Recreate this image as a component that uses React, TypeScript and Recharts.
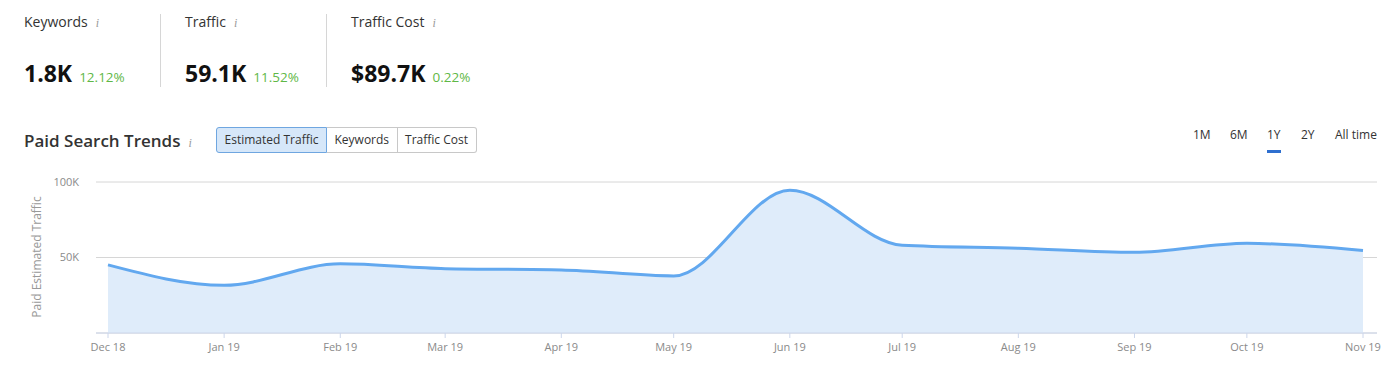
import { Area, AreaChart, CartesianGrid, XAxis, YAxis } from "recharts";

const months = ["Dec 18", "Jan 19", "Feb 19", "Mar 19", "Apr 19", "May 19", "Jun 19", "Jul 19", "Aug 19", "Sep 19", "Oct 19", "Nov 19"];
const monthStarts = [
  Date.UTC(2018, 11, 1),
  Date.UTC(2019, 0, 1),
  Date.UTC(2019, 1, 1),
  Date.UTC(2019, 2, 1),
  Date.UTC(2019, 3, 1),
  Date.UTC(2019, 4, 1),
  Date.UTC(2019, 5, 1),
  Date.UTC(2019, 6, 1),
  Date.UTC(2019, 7, 1),
  Date.UTC(2019, 8, 1),
  Date.UTC(2019, 9, 1),
  Date.UTC(2019, 10, 1),
];
const traffic = [45100, 31600, 45800, 42600, 41800, 37800, 94500, 58100, 56100, 53400, 59400, 54600];
const yTicks = [50000, 100000];

const kpis = [
  { label: "Keywords", value: "1.8K", delta: "12.12%", x: 24 },
  { label: "Traffic", value: "59.1K", delta: "11.52%", x: 185 },
  { label: "Traffic Cost", value: "$89.7K", delta: "0.22%", x: 351 },
];
const tabs = ["Estimated Traffic", "Keywords", "Traffic Cost"];
const periods = [
  { label: "1M", x: 1193 },
  { label: "6M", x: 1230 },
  { label: "1Y", x: 1267 },
  { label: "2Y", x: 1301 },
  { label: "All time", x: 1335 },
];

const data = monthStarts.map((t, i) => ({ t, traffic: traffic[i] }));
const FONT = "'Open Sans', sans-serif";

function fmtK(v: number) {
  return `${Math.round(v / 1000)}K`;
}

function fmtMonth(t: number) {
  const i = monthStarts.indexOf(t);
  return i >= 0 ? months[i] : "";
}

export default function App() {
  return (
    <div style={{ position: "absolute", left: 0, top: 0, width: 1396, height: 381, background: "#fff", fontFamily: FONT, color: "#333" }}>
      {kpis.map((k, i) => (
        <div key={k.label}>
          <div style={{ position: "absolute", left: k.x, top: 12, fontSize: 14, lineHeight: "20px", whiteSpace: "nowrap" }}>
            {k.label}
            <span style={{ fontFamily: "serif", fontStyle: "italic", color: "#999", fontSize: 12, marginLeft: 8 }}>i</span>
          </div>
          <div style={{ position: "absolute", left: k.x, top: 58, whiteSpace: "nowrap", lineHeight: "30px" }}>
            <span style={{ fontSize: 23, fontWeight: 700, color: "#111" }}>{k.value}</span>
            <span style={{ fontSize: 13.5, color: "#5fb847", marginLeft: 7 }}>{k.delta}</span>
          </div>
          {i < kpis.length - 1 ? (
            <div style={{ position: "absolute", left: k.x + (i === 0 ? 136 : 141), top: 14, width: 1, height: 73, background: "#d6d6d6" }} />
          ) : null}
        </div>
      ))}

      <div style={{ position: "absolute", left: 24, top: 128, fontSize: 17, fontWeight: 600, lineHeight: "26px", whiteSpace: "nowrap" }}>
        Paid Search Trends
        <span style={{ fontFamily: "serif", fontStyle: "italic", color: "#999", fontSize: 12, fontWeight: 400, marginLeft: 8 }}>i</span>
      </div>

      <div style={{ position: "absolute", left: 216, top: 127, display: "flex", height: 26 }}>
        {tabs.map((t, i) => (
          <div
            key={t}
            style={{
              boxSizing: "border-box",
              height: 26,
              padding: "0 7.5px",
              fontSize: 12,
              lineHeight: "24px",
              whiteSpace: "nowrap",
              border: i === 0 ? "1px solid #6fa6e0" : "1px solid #c8c8c8",
              borderLeft: i === 0 ? "1px solid #6fa6e0" : "none",
              background: i === 0 ? "#d6e7f9" : "#fff",
              borderRadius: i === 0 ? "3px 0 0 3px" : i === tabs.length - 1 ? "0 3px 3px 0" : 0,
            }}
          >
            {t}
          </div>
        ))}
      </div>

      {periods.map((p) => (
        <div key={p.label} style={{ position: "absolute", left: p.x, top: 126, fontSize: 12, lineHeight: "18px", whiteSpace: "nowrap", color: "#333" }}>
          {p.label}
          {p.label === "1Y" ? (
            <div style={{ position: "absolute", left: 0, top: 24, width: 14, height: 3, background: "#2e6fcf" }} />
          ) : null}
        </div>
      ))}

      <div
        style={{
          position: "absolute",
          left: 36,
          top: 257,
          transform: "translate(-50%, -50%) rotate(-90deg)",
          fontSize: 12,
          color: "#999",
          whiteSpace: "nowrap",
        }}
      >
        Paid Estimated Traffic
      </div>

      <div style={{ position: "absolute", left: 0, top: 170 }}>
        <AreaChart width={1396} height={211} data={data} margin={{ top: 12, right: 19, bottom: 18, left: 40 }}>
          <CartesianGrid vertical={false} stroke="#d6d6d6" />
          <XAxis
            dataKey="t"
            type="number"
            scale="time"
            domain={[monthStarts[0], monthStarts[monthStarts.length - 1]]}
            ticks={monthStarts}
            tickFormatter={fmtMonth}
            padding={{ left: 12, right: 14 }}
            height={30}
            stroke="#ccd6eb"
            tickSize={5}
            tickMargin={5}
            tick={{ fill: "#8a8a8a", fontSize: 11, fontFamily: FONT }}
            interval={0}
          />
          <YAxis
            domain={[0, 100000]}
            ticks={yTicks}
            tickFormatter={fmtK}
            width={56}
            axisLine={false}
            tickLine={false}
            tickMargin={11}
            tick={{ fill: "#8a8a8a", fontSize: 11, fontFamily: FONT }}
          />
          <Area
            type="monotone"
            dataKey="traffic"
            stroke="#62a8ef"
            strokeWidth={3}
            fill="#dfecfa"
            fillOpacity={1}
            isAnimationActive={false}
            dot={false}
            activeDot={false}
          />
        </AreaChart>
      </div>
    </div>
  );
}
